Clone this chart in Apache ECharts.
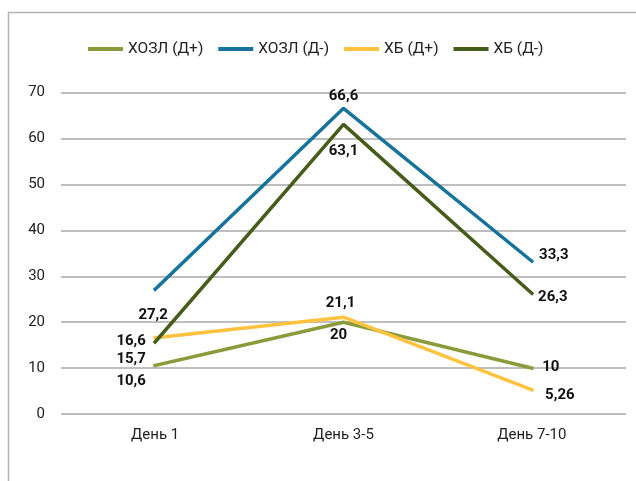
<!DOCTYPE html>
<html>
<head>
<meta charset="utf-8">
<script src="https://cdn.jsdelivr.net/npm/echarts@6/dist/echarts.min.js"></script>
<style>
  html, body { margin: 0; padding: 0; background: #fff; }
  #chart { width: 636px; height: 481px; }
</style>
</head>
<body>
<div id="chart"></div>
<script>
// данные
var days = ['День 1', 'День 3-5', 'День 7-10']
var names = ['ХОЗЛ (Д+)', 'ХОЗЛ (Д-)', 'ХБ (Д+)', 'ХБ (Д-)']
var hozlPlus = [10.6, 20, 10]
var hozlMinus = [27.2, 66.6, 33.3]
var hbPlus = [16.6, 21.1, 5.26]
var hbMinus = [15.7, 63.1, 26.3]
var yTicks = [0, 10, 20, 30, 40, 50, 60, 70]

var colors = ['#8a9b3b', '#16739b', '#fdc33f', '#465c1b']

// сдвиги подписей (px) для каждой точки
var labelShift = [
  [[-24, 16], [-5, 13], [19, -1]],
  [[-2, 26], [0, -12], [22, -6]],
  [[-24, 3], [-3, -14], [28, 5]],
  [[-24, 17], [0, 27], [21, 4]]
]

var chart = echarts.init(document.getElementById('chart'))

function makeSeries(idx, values) {
  return {
    name: names[idx],
    type: 'line',
    data: values.map(function (v, i) {
      return {
        value: v,
        label: { offset: labelShift[idx][i] }
      }
    }),
    symbol: 'circle',
    symbolSize: 0,
    showSymbol: true,
    lineStyle: { width: 3.5, color: colors[idx], cap: 'square' },
    itemStyle: { color: colors[idx] },
    label: {
      show: true,
      position: 'inside',
      color: '#111',
      fontFamily: 'Roboto',
      fontWeight: 'bold',
      fontSize: 15,
      formatter: function (p) { return String(p.value).replace('.', ',') }
    },
    emphasis: { disabled: true },
    animation: false
  }
}

chart.setOption({
  backgroundColor: '#fff',
  color: colors,
  textStyle: { fontFamily: 'Roboto' },
  graphic: [{
    type: 'rect',
    shape: { x: 8.5, y: 12.5, width: 700, height: 520 },
    style: { fill: 'none', stroke: '#b3b3b3', lineWidth: 1.5 },
    silent: true
  }],
  legend: {
    top: 36,
    left: 83,
    icon: 'rect',
    itemWidth: 35,
    itemHeight: 4,
    itemGap: 15,
    textStyle: { fontSize: 15.5, color: '#222', fontFamily: 'Roboto' },
    data: names
  },
  grid: { left: 61, right: 10, top: 92.7, bottom: 67 },
  xAxis: {
    type: 'category',
    data: days,
    boundaryGap: true,
    axisLine: { show: false },
    axisTick: { show: false },
    axisLabel: { fontSize: 15, color: '#222', margin: 14 }
  },
  yAxis: {
    type: 'value',
    min: yTicks[0],
    max: yTicks[yTicks.length - 1],
    interval: 10,
    axisLine: { show: false },
    axisTick: { show: false },
    axisLabel: { fontSize: 15, color: '#222', margin: 16 },
    splitLine: { lineStyle: { color: '#a8a8a8', width: 1.5 } }
  },
  series: [
    makeSeries(0, hozlPlus),
    makeSeries(1, hozlMinus),
    makeSeries(2, hbPlus),
    makeSeries(3, hbMinus)
  ]
})
</script>
</body>
</html>
